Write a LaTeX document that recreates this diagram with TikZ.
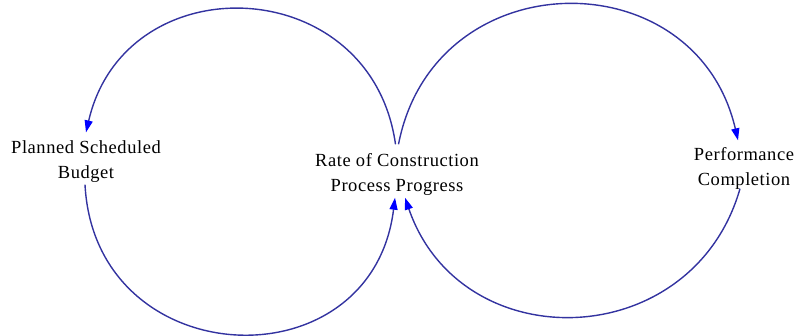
\documentclass[tikz,border=0pt]{standalone}
\usepackage{fontspec}
\setmainfont{Liberation Serif}[LetterSpace=3]
\usetikzlibrary{arrows.meta}
\definecolor{linkline}{RGB}{51,51,160}
\definecolor{linktip}{RGB}{0,0,255}
\tikzset{
  var/.style={align=center,inner sep=4pt,font=\fontsize{18.5}{25}\selectfont},
  link/.style={draw=linkline,line width=1.4pt,-{Triangle[length=12pt,width=8pt,color=linktip]}}
}
\begin{document}
\begin{tikzpicture}[x=1pt,y=1pt,line join=round]
  \useasboundingbox (0,0) rectangle (797,335);
  \node[var] (budget) at (86,173.5) {Planned Scheduled\\Budget};
  \node[var] (rate) at (397,160.5) {Rate of Construction\\Process Progress};
  \node[var] (perf) at (744,166.5) {Performance\\Completion};
  % upper arcs
  \draw[link] ([xshift=-1.5pt,yshift=5pt]rate.north) to[out=98,in=77,looseness=1.44] ([yshift=4pt]budget.north);
  \draw[link] ([xshift=1.5pt,yshift=5pt]rate.north) to[out=79,in=103,looseness=1.41] ([xshift=-6pt,yshift=3pt]perf.north);
  % lower arcs
  \draw[link] ([xshift=-1pt,yshift=2pt]budget.south) to[out=273,in=263,looseness=1.57] ([xshift=-2pt,yshift=2pt]rate.south);
  \draw[link] ([xshift=-4pt,yshift=5pt]perf.south) to[out=-106,in=-71,looseness=1.31] ([xshift=8pt,yshift=2pt]rate.south);
\end{tikzpicture}
\end{document}
